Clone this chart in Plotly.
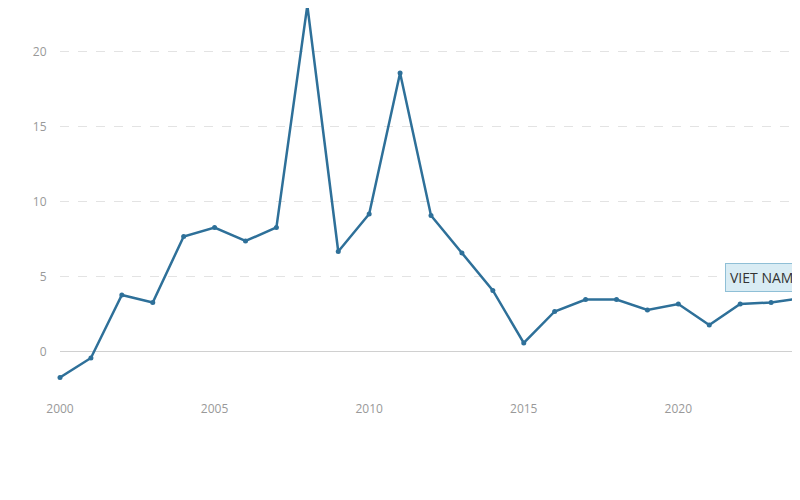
import plotly.graph_objects as go

years = list(range(2000, 2025))
values = [-1.7, -0.4, 3.8, 3.3, 7.7, 8.3, 7.4, 8.3, 23.1, 6.7, 9.2, 18.6, 9.1, 6.6,
          4.1, 0.6, 2.7, 3.5, 3.5, 2.8, 3.2, 1.8, 3.2, 3.3, 3.6]
series_name = "VIET NAM"
line_color = "#2e7099"

fig = go.Figure()
fig.add_trace(go.Scatter(
    x=years, y=values, mode="lines+markers",
    line=dict(color=line_color, width=2.5),
    marker=dict(size=5, color=line_color),
    cliponaxis=False, showlegend=False,
))

# Series label at the last point
fig.add_annotation(
    x=years[-1], y=values[-1], text=series_name, xanchor="right", yanchor="middle",
    xshift=-4, yshift=20, showarrow=False,
    font=dict(family="Open Sans", size=14, color="#333"),
    bgcolor="#d9ecf4", bordercolor="#8fbfd6", borderwidth=1, borderpad=4,
)

fig.update_layout(
    width=800, height=500,
    margin=dict(l=52, r=6, t=0, b=108),
    paper_bgcolor="white", plot_bgcolor="white",
    font=dict(family="Open Sans", size=12, color="#999"),
    xaxis=dict(range=[2000, 2024], tickvals=[2000, 2005, 2010, 2015, 2020],
               showgrid=False, zeroline=False, ticks=""),
    yaxis=dict(range=[-3.2, 22.93], tickvals=[0, 5, 10, 15, 20],
               showgrid=True, gridcolor="#e3e3e3", griddash="dash",
               zeroline=True, zerolinecolor="#d0d0d0", zerolinewidth=1,
               ticks="outside", ticklen=10, tickcolor="white"),
)

fig.write_html("out.html")
